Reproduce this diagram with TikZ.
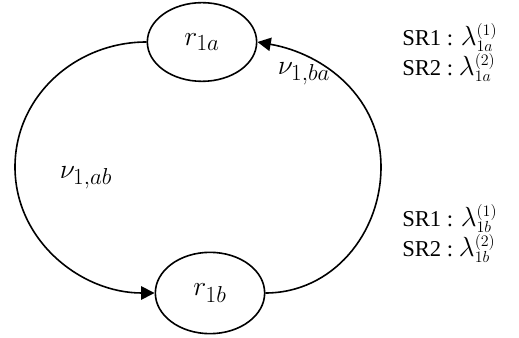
\documentclass[tikz,border=0pt]{standalone}
\usepackage{fontspec}
\setmainfont{Liberation Serif}
\DeclareMathSizes{20}{20}{16}{12}
\usetikzlibrary{arrows.meta,shapes.geometric,positioning}
% lambda with stacked upper and lower index
\newcommand{\lamscr}[2]{{\fontsize{22}{22}\selectfont$\lambda$}\raisebox{8pt}{\rlap{\fontsize{13}{13}\selectfont$(#1)$}}\raisebox{-4.5pt}{\fontsize{13}{13}\selectfont$#2$}}

\begin{document}
\begin{tikzpicture}[
    x=0.75pt, y=-0.75pt,
    state/.style={draw, ellipse, line width=1.2pt, minimum width=82pt, minimum height=59pt, inner sep=0pt, font=\fontsize{20}{24}\selectfont},
    arr/.style={-{Triangle[length=10pt,width=10pt]}, line width=1.2pt},
    lbl/.style={font=\fontsize{20}{24}\selectfont},
    sr/.style={anchor=base west, inner sep=0pt, font=\fontsize{17}{20}\selectfont}
]
\useasboundingbox (0,0) rectangle (519,338);
\node[state] (ra) at (202,42) {$r_{1a}$};
\node[state, minimum height=61pt] (rb) at (210,293) {$r_{1b}$};
\coordinate (lft) at (15,167);
\coordinate (rgt) at (381,167);

\draw[arr] (ra.west) to[out=180, in=90] (lft) to[out=-90, in=180] (rb.west);
\draw[arr] (rb.east) to[out=0, in=-90] (rgt) to[out=90, in=-10] (ra.east);

\node[lbl] (vba) at (304,74) {$\nu_{1,ba}$};
\node[lbl] (vab) at (86,178) {$\nu_{1,ab}$};

\node[sr] (sr1a) at (402,46) {SR1 : \lamscr{1}{1a}};
\node[sr] (sr2a) at (402,76) {SR2 :\ \lamscr{2}{1a}};
\node[sr] (sr1b) at (402,227) {SR1 : \lamscr{1}{1b}};
\node[sr] (sr2b) at (402,257) {SR2 :\ \lamscr{2}{1b}};
\end{tikzpicture}
\end{document}
